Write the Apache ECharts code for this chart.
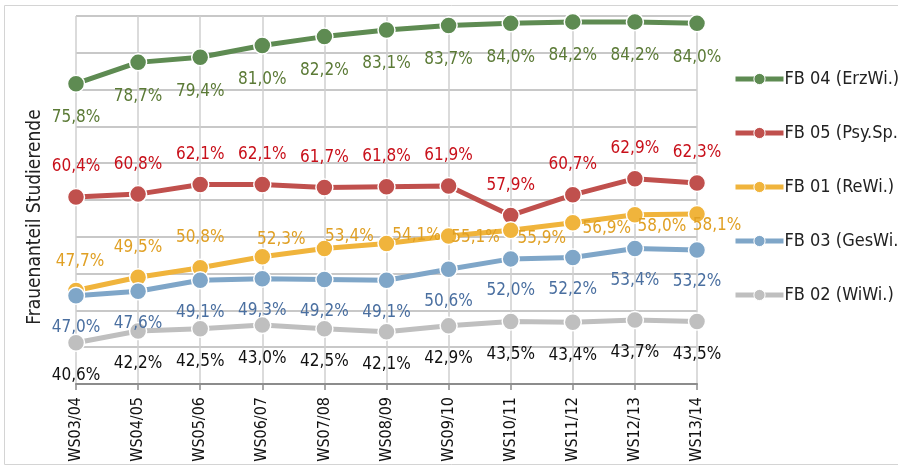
<!DOCTYPE html>
<html>
<head>
<meta charset="utf-8">
<script src="https://cdn.jsdelivr.net/npm/echarts@6/dist/echarts.min.js"></script>
<style>
  html, body { margin: 0; padding: 0; background: #fff; }
  #chart { width: 898px; height: 467px; }
</style>
</head>
<body>
<div id="chart"></div>
<script>
var semesters = ['WS03/04', 'WS04/05', 'WS05/06', 'WS06/07', 'WS07/08', 'WS08/09', 'WS09/10', 'WS10/11', 'WS11/12', 'WS12/13', 'WS13/14'];
var fb04 = [75.8, 78.7, 79.4, 81.0, 82.2, 83.1, 83.7, 84.0, 84.2, 84.2, 84.0];
var fb05 = [60.4, 60.8, 62.1, 62.1, 61.7, 61.8, 61.9, 57.9, 60.7, 62.9, 62.3];
var fb01 = [47.7, 49.5, 50.8, 52.3, 53.4, 54.1, 55.1, 55.9, 56.9, 58.0, 58.1];
var fb03 = [47.0, 47.6, 49.1, 49.3, 49.2, 49.1, 50.6, 52.0, 52.2, 53.4, 53.2];
var fb02 = [40.6, 42.2, 42.5, 43.0, 42.5, 42.1, 42.9, 43.5, 43.4, 43.7, 43.5];

// label offsets for FB 01, they were dragged around by hand in the original
var fb01LabelShift = [[4, -29], [0, -30], [0, -30], [19, -17], [25, -12], [30, -8], [27, 2], [31, 8], [34, 6], [27, 12], [20, 12]];

var font = '"Liberation Sans Narrow", "DejaVu Sans Condensed", "Roboto", sans-serif';

function fmt(p) {
    return p.value.toFixed(1).replace('.', ',') + '%';
}

function makeSeries(name, values, color, labelColor, dy, shifts) {
    return {
        name: name,
        type: 'line',
        data: values.map(function (v, i) {
            var item = { value: v };
            if (shifts) {
                item.label = { offset: shifts[i] };
            }
            return item;
        }),
        symbol: 'circle',
        symbolSize: 17,
        lineStyle: { color: color, width: 5 },
        itemStyle: { color: color, borderColor: '#fff', borderWidth: 1.5 },
        label: {
            show: true,
            position: 'inside',
            offset: [0, dy],
            formatter: fmt,
            color: labelColor,
            fontFamily: font,
            fontSize: 17
        },
        emphasis: { disabled: true },
        animation: false
    };
}

var chart = echarts.init(document.getElementById('chart'));
var option = {
    animation: false,
    grid: { left: 76, right: 201, top: 16, bottom: 83 },
    legend: {
        orient: 'vertical',
        left: 728,
        top: 65,
        itemWidth: 48,
        itemHeight: 14,
        itemGap: 36,
        lineStyle: { width: 5 },
        itemStyle: { borderColor: '#fff', borderWidth: 1 },
        textStyle: { fontFamily: font, fontSize: 18, color: '#222', padding: [0, 0, 0, -4] },
        data: ['FB 04 (ErzWi.)', 'FB 05 (Psy.Sp.)', 'FB 01 (ReWi.)', 'FB 03 (GesWi.)', 'FB 02 (WiWi.)']
    },
    xAxis: {
        type: 'category',
        data: semesters,
        boundaryGap: false,
        axisLine: { lineStyle: { color: '#8c8c8c', width: 2 } },
        axisTick: { show: true, length: 6, lineStyle: { color: '#8c8c8c', width: 1.5 } },
        axisLabel: {
            rotate: 90,
            margin: 13,
            fontFamily: font,
            fontSize: 16,
            color: '#111'
        },
        splitLine: { show: true, lineStyle: { color: '#cfcfcf', width: 1.5 } }
    },
    yAxis: {
        type: 'value',
        min: 35,
        max: 85,
        interval: 5,
        axisLabel: { show: false },
        axisLine: { show: false },
        axisTick: { show: false },
        splitLine: { lineStyle: { color: '#c8c8c8', width: 2 } }
    },
    graphic: [
        {
            type: 'rect',
            shape: { x: 4.5, y: 5.5, width: 900, height: 459 },
            style: { fill: 'none', stroke: '#d4d4d4', lineWidth: 1 },
            z: -1
        },
        {
            type: 'text',
            x: 35,
            y: 217,
            rotation: Math.PI / 2,
            style: {
                text: 'Frauenanteil Studierende',
                fontFamily: font,
                fontSize: 19,
                fill: '#222',
                align: 'center',
                verticalAlign: 'middle'
            }
        }
    ],
    series: [
        makeSeries('FB 04 (ErzWi.)', fb04, '#5e8b52', '#5b7a36', 34),
        makeSeries('FB 05 (Psy.Sp.)', fb05, '#c0504d', '#c8101a', -30),
        makeSeries('FB 01 (ReWi.)', fb01, '#f0b43c', '#e0a024', 0, fb01LabelShift),
        makeSeries('FB 03 (GesWi.)', fb03, '#7fa6c8', '#4a6fa0', 32),
        makeSeries('FB 02 (WiWi.)', fb02, '#bfbfbf', '#111', 33)
    ]
};
chart.setOption(option);
</script>
</body>
</html>
